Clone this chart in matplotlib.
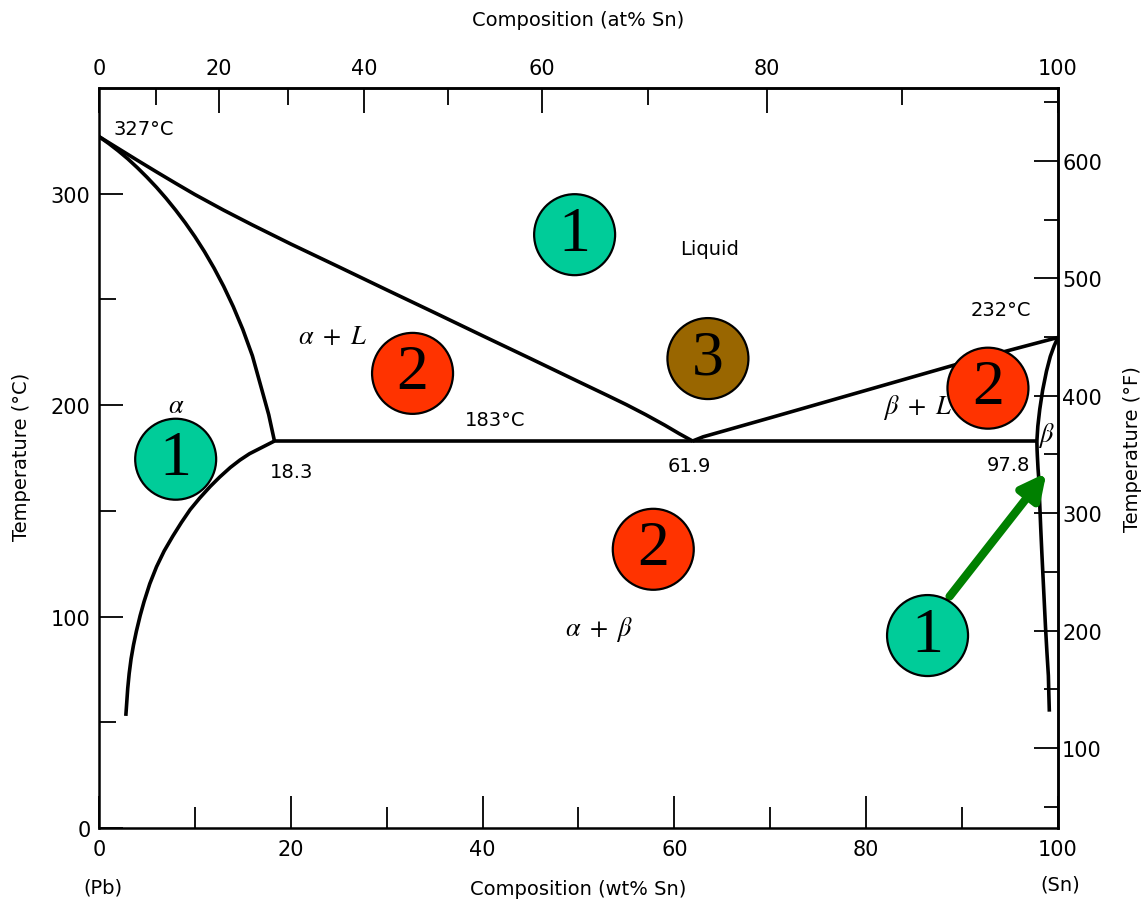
import matplotlib
matplotlib.use("Agg")
import matplotlib.pyplot as plt

plt.rcParams['font.family'] = ['DejaVu Sans']
plt.rcParams['mathtext.fontset'] = 'stix'

# Pb-Sn phase diagram (wt% Sn, deg C)
liq_pb_wt = [0, 2, 4, 6, 8, 10, 13, 16, 20, 25, 30, 35, 40, 45, 50, 53, 55, 57, 59, 60.5, 61.9]
liq_pb_T = [327, 321.4, 315.8, 310.3, 304.9, 299.6, 292.2, 285.2, 276.2, 265.4, 254.5, 243.7,
            232.8, 222.0, 211.1, 204.6, 200.2, 195.5, 190.5, 186.5, 183]

sol_a_wt = [0, 1, 2, 3, 4, 5, 6, 7, 8, 9, 10, 11, 12, 13, 14, 15, 16, 17, 17.7, 18.3]
sol_a_T = [327, 323.8, 320.3, 316.5, 312.3, 307.8, 303.0, 297.8, 292.2, 286.2, 279.7, 272.6,
           264.8, 256.2, 246.6, 235.8, 223.3, 207.0, 195.5, 183]

solvus_a_wt = [18.3, 17, 15.7, 14.7, 13.7, 12.6, 11.6, 10.5, 9.5, 8.6, 7.7, 6.8, 6.0, 5.3,
               4.7, 4.3, 3.9, 3.6, 3.35, 3.15, 3.0, 2.9, 2.8]
solvus_a_T = [183, 180, 177, 174, 170.5, 166, 161.5, 156, 150.5, 144.5, 138, 131, 123.5, 115.5,
              107, 100.5, 93, 86.5, 80, 73, 66, 59.5, 53]

liq_sn_wt = [61.9, 63, 70, 80, 90, 100]
liq_sn_T = [183, 185, 194, 207, 220, 232]

sol_b_wt = [100, 99.8, 99.6, 99.4, 99.2, 99.0, 98.8, 98.6, 98.4, 98.25, 98.1, 98.0, 97.9, 97.85, 97.8]
sol_b_T = [232, 230, 228, 225.5, 223, 219.5, 216, 211.5, 207, 202.5, 198, 194, 190, 186.5, 183]

solvus_b_wt = [97.8, 97.82, 97.85, 97.92, 98.0, 98.1, 98.2, 98.32, 98.45, 98.58, 98.7, 98.85,
               99.0, 99.05, 99.1]
solvus_b_T = [183, 179, 176, 170, 165, 153, 142, 130, 118, 106, 95, 83, 72, 63, 55]

eutectic_wt = [18.3, 97.8]
eutectic_T = [183, 183]

# numbered circles (number of phases)
circle_wt = [49.6, 8.0, 32.7, 63.5, 92.7, 57.8, 86.4]
circle_T = [280.6, 174.4, 215, 222, 208, 131.8, 91]
circle_num = ['1', '1', '2', '3', '2', '2', '1']
circle_col = ['#00CC99', '#00CC99', '#FF3300', '#996600', '#FF3300', '#FF3300', '#00CC99']

# region / point labels
labels = [
    ('327°C', 1.5, 331, 'left', False),
    ('Liquid', 63.7, 274, 'center', False),
    ('183°C', 41.3, 193, 'center', False),
    ('18.3', 20.1, 168.5, 'center', False),
    ('61.9', 61.6, 171.5, 'center', False),
    ('97.8', 94.8, 172, 'center', False),
    ('232°C', 94.0, 245, 'center', False),
    (r'$\alpha\ +\ L$', 24.4, 232.7, 'center', True),
    (r'$\alpha$', 8.1, 200, 'center', True),
    (r'$\beta\ +\ L$', 85.4, 199.5, 'center', True),
    (r'$\beta$', 98.75, 186, 'center', True),
    (r'$\alpha\ +\ \beta$', 52.2, 94.3, 'center', True),
]

M_SN = 118.71
M_PB = 207.2


def wt2at(w):
    a = w / M_SN
    b = (100 - w) / M_PB
    return 100 * a / (a + b)


def at2wt(x):
    a = x * M_SN
    b = (100 - x) * M_PB
    return 100 * a / (a + b)


def c2f(t):
    return t * 9 / 5 + 32


def f2c(t):
    return (t - 32) * 5 / 9


fig = plt.figure(figsize=(11.44, 9.03), dpi=100)
ax = fig.add_axes([0.0865, 0.082, 0.8383, 0.8195])
ax.set_xlim(0, 100)
ax.set_ylim(0, 350)

lw = 2.6
for xs, ys in [(liq_pb_wt, liq_pb_T), (sol_a_wt, sol_a_T), (solvus_a_wt, solvus_a_T),
               (liq_sn_wt, liq_sn_T), (sol_b_wt, sol_b_T), (solvus_b_wt, solvus_b_T),
               (eutectic_wt, eutectic_T)]:
    ax.plot(xs, ys, color='black', lw=lw, solid_capstyle='butt', solid_joinstyle='round')

for s in ax.spines.values():
    s.set_linewidth(1.8)

# ticks
ax.set_xticks([0, 20, 40, 60, 80, 100])
ax.set_xticks([10, 30, 50, 70, 90], minor=True)
ax.set_yticks([0, 100, 200, 300])
ax.set_yticks([50, 150, 250], minor=True)
ax.tick_params(axis='x', which='major', direction='in', length=23, width=1.3, labelsize=15, pad=8)
ax.tick_params(axis='x', which='minor', direction='in', length=15, width=1.3)
ax.tick_params(axis='y', which='major', direction='in', length=17, width=1.3, labelsize=15, pad=6)
ax.tick_params(axis='y', which='minor', direction='in', length=12, width=1.3)

top = ax.secondary_xaxis('top', functions=(wt2at, at2wt))
top.set_xticks([0, 20, 40, 60, 80, 100])
top.set_xticks([10, 30, 50, 70, 90], minor=True)
top.tick_params(which='major', direction='in', length=18, width=1.3, labelsize=15, pad=7)
top.tick_params(which='minor', direction='in', length=12, width=1.3)
top.spines['top'].set_linewidth(1.8)
top.set_xlabel('Composition (at% Sn)', fontsize=14, labelpad=24)

right = ax.secondary_yaxis('right', functions=(c2f, f2c))
right.set_yticks([100, 200, 300, 400, 500, 600])
right.set_yticks([50, 150, 250, 350, 450, 550, 650], minor=True)
right.tick_params(which='major', direction='in', length=17, width=1.3, labelsize=15, pad=3)
right.tick_params(which='minor', direction='in', length=10, width=1.3)
right.spines['right'].set_linewidth(1.8)
fig.text(1133 / 1144, 1 - 449 / 903, 'Temperature (°F)', rotation=90, fontsize=14,
         ha='center', va='center')

ax.set_xlabel('Composition (wt% Sn)', fontsize=14, labelpad=14)
ax.set_ylabel('Temperature (°C)', fontsize=14)
ax.yaxis.set_label_coords(-0.071, 0.503)

ax.text(0.004, -0.08, '(Pb)', transform=ax.transAxes, fontsize=14, ha='center', va='center')
ax.text(1.002, -0.076, '(Sn)', transform=ax.transAxes, fontsize=14, ha='center', va='center')

for txt, x, y, ha, greek in labels:
    size = 19 if greek else 14
    ax.text(x, y, txt, ha=ha, va='center', fontsize=size)

# arrow pointing at the beta single-phase region
ax.annotate('', xy=(98.8, 168), xytext=(88.7, 109.5),
            arrowprops=dict(arrowstyle='-|>', color='#008000', lw=6, mutation_scale=38,
                            shrinkA=0, shrinkB=0))

ax.scatter(circle_wt, circle_T, s=3400, c=circle_col, edgecolors='black', linewidths=1.6, zorder=5)
for n, x, y in zip(circle_num, circle_wt, circle_T):
    ax.text(x, y, n, ha='center', va='center', fontsize=46, family='Liberation Serif', zorder=6)

fig.savefig('out.png', dpi=100)
